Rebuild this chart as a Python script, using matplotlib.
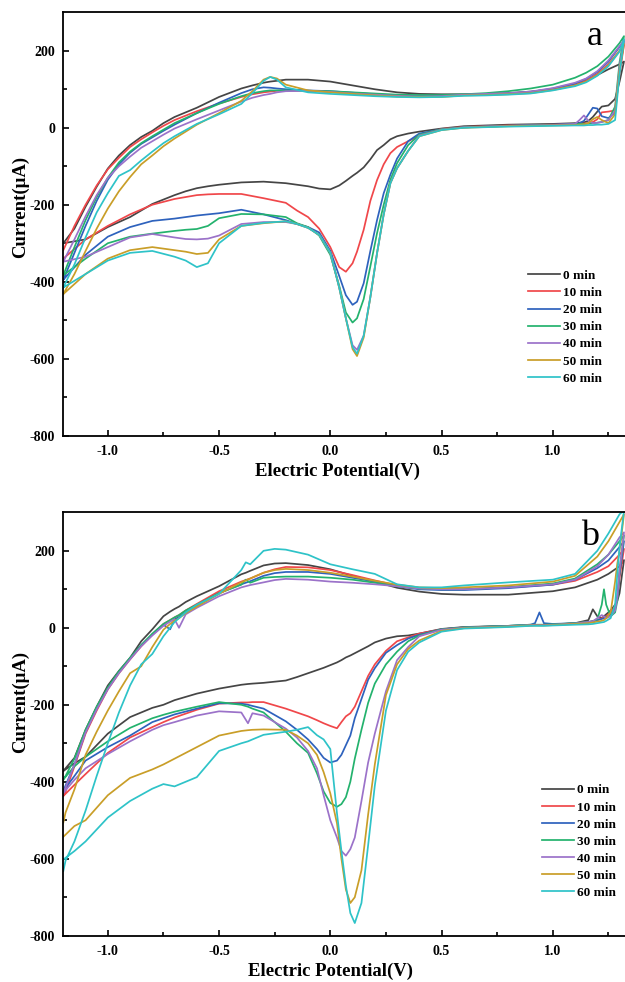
import matplotlib
matplotlib.use("Agg")
import matplotlib.pyplot as plt
import numpy as np
from matplotlib.ticker import FixedLocator

plt.rcParams['font.family'] = ['Liberation Serif', 'DejaVu Serif']
plt.rcParams['axes.unicode_minus'] = False

LABELS = ["0 min", "10 min", "20 min", "30 min", "40 min", "50 min", "60 min"]
COLORS = ["#454545", "#f0474a", "#2e62bd", "#23b26d", "#9b72c9", "#c99e28", "#2ec3c8"]

# ---------------- panel a ----------------
UA_X = [-1.2, -1.15, -1.1, -1.05, -1.0, -0.95, -0.9, -0.85, -0.8, -0.75, -0.7, -0.6, -0.5, -0.4,
        -0.35, -0.3, -0.27, -0.24, -0.2, -0.1, 0.0, 0.1, 0.2, 0.3, 0.4, 0.5, 0.6, 0.7, 0.8, 0.9,
        1.0, 1.1, 1.15, 1.2, 1.25, 1.3, 1.32]
UA_0 = [-300, -262, -205, -153, -106, -72, -45, -24, -8, 12, 28, 52, 80, 102, 110, 117, 120, 122, 125,
        125, 120, 110, 100, 92, 88, 87, 87, 88, 90, 94, 100, 112, 122, 137, 152, 165, 172]
UA_10 = [-318, -255, -200, -150, -108, -78, -50, -30, -12, 5, 20, 43, 63, 80, 87, 92, 94, 96, 97,
         96, 93, 89, 86, 83, 82, 83, 85, 86, 88, 92, 100, 112, 122, 140, 165, 200, 215]
UA_20 = [-395, -325, -255, -190, -135, -95, -65, -42, -25, -8, 8, 38, 65, 90, 100, 105, 104, 102, 100,
         97, 95, 91, 87, 84, 83, 83, 86, 87, 89, 93, 102, 115, 127, 145, 172, 210, 225]
UA_30 = [-383, -310, -240, -180, -130, -90, -62, -40, -22, -5, 12, 38, 62, 82, 90, 95, 97, 97, 97,
         96, 95, 92, 89, 86, 85, 85, 87, 90, 95, 102, 112, 130, 143, 160, 185, 220, 238]
UA_40 = [-348, -290, -230, -175, -130, -100, -75, -52, -35, -18, -2, 22, 45, 68, 78, 85, 88, 92, 95,
         96, 93, 89, 86, 83, 81, 82, 86, 88, 90, 94, 103, 117, 128, 147, 175, 212, 228]
UA_50 = [-432, -380, -320, -262, -210, -165, -128, -95, -72, -48, -28, 8, 38, 70, 95, 125, 132, 128, 112,
         97, 92, 88, 84, 81, 80, 80, 84, 85, 87, 90, 98, 110, 120, 137, 162, 200, 218]
UA_60 = [-415, -355, -285, -220, -170, -125, -110, -85, -62, -40, -22, 10, 35, 62, 90, 122, 132, 125, 105,
         92, 88, 85, 82, 80, 79, 80, 83, 84, 86, 89, 97, 108, 118, 135, 160, 198, 230]

LA_X = [1.32, 1.3, 1.28, 1.25, 1.22, 1.2, 1.18, 1.16, 1.14, 1.12, 1.1, 1.0, 0.8, 0.6, 0.5, 0.4, 0.35,
        0.3, 0.27, 0.24, 0.21, 0.18, 0.15, 0.12, 0.1, 0.07, 0.04, 0.0, -0.05, -0.1, -0.15, -0.2, -0.3,
        -0.4, -0.5, -0.55, -0.6, -0.65, -0.7, -0.8, -0.9, -1.0, -1.1, -1.2]
LA_0 = [172, 120, 75, 58, 55, 42, 28, 18, 14, 13, 12, 10, 8, 4, -2, -10, -15, -22, -30, -45, -58, -82,
        -103, -117, -125, -138, -150, -160, -158, -152, -148, -144, -140, -142, -148, -152, -157, -165,
        -175, -198, -232, -258, -290, -300]
LA_10 = [215, 140, 45, 42, 40, 22, 15, 12, 11, 10, 10, 8, 6, 2, -3, -20, -35, -50, -66, -95, -136, -190,
         -265, -322, -352, -374, -362, -310, -262, -232, -215, -195, -183, -172, -172, -173, -175, -180,
         -185, -200, -225, -255, -290, -340]
LA_20 = [225, 150, 40, 25, 30, 50, 52, 35, 18, 12, 10, 8, 5, 1, -4, -15, -35, -80, -122, -170, -240, -320,
         -404, -452, -460, -435, -385, -320, -272, -258, -250, -240, -225, -213, -222, -225, -228, -232,
         -236, -242, -258, -283, -330, -395]
LA_30 = [238, 170, 55, 20, 15, 13, 12, 11, 10, 10, 9, 7, 5, 1, -4, -18, -45, -92, -135, -200, -274, -360,
         -445, -495, -506, -480, -410, -330, -280, -258, -248, -232, -225, -224, -235, -255, -263, -265,
         -268, -275, -283, -300, -340, -383]
LA_40 = [228, 160, 45, 20, 15, 13, 12, 18, 32, 20, 10, 7, 5, 1, -5, -20, -60, -105, -144, -225, -326, -440,
         -540, -577, -565, -495, -415, -325, -278, -260, -250, -245, -245, -250, -280, -288, -290, -289,
         -285, -276, -285, -310, -335, -348]
LA_50 = [218, 150, 35, 12, 20, 28, 22, 12, 9, 8, 7, 6, 4, 0, -6, -22, -60, -105, -144, -225, -326, -440,
         -545, -593, -575, -495, -415, -325, -278, -260, -250, -243, -248, -255, -290, -325, -328, -322,
         -318, -310, -318, -340, -380, -432]
LA_60 = [230, 140, 20, 10, 8, 8, 7, 7, 6, 6, 6, 5, 3, 0, -6, -22, -60, -105, -144, -225, -326, -440,
         -540, -587, -570, -495, -415, -325, -278, -260, -250, -243, -247, -255, -300, -352, -362, -345,
         -335, -320, -325, -345, -380, -415]

# ---------------- panel b ----------------
UB_X = [-1.2, -1.19, -1.15, -1.1, -1.05, -1.0, -0.95, -0.9, -0.85, -0.8, -0.75, -0.72, -0.7, -0.68,
        -0.65, -0.6, -0.5, -0.4, -0.38, -0.36, -0.3, -0.25, -0.2, -0.1, 0.0, 0.1, 0.2, 0.3, 0.4, 0.5,
        0.6, 0.8, 1.0, 1.1, 1.2, 1.25, 1.3, 1.32]
UB_0 = [-372, -365, -338, -265, -205, -150, -112, -78, -35, -4, 30, 42, 49, 55, 67, 82, 108, 139, 143,
        148, 162, 167, 168, 163, 152, 135, 120, 104, 94, 88, 86, 86, 95, 105, 125, 140, 160, 176]
UB_10 = [-437, -425, -360, -275, -215, -160, -118, -82, -48, -18, 10, 20, 27, 33, 45, 62, 95, 120, 124,
         128, 143, 152, 158, 157, 150, 137, 123, 110, 102, 100, 100, 105, 112, 122, 145, 160, 190, 205]
UB_20 = [-424, -410, -355, -270, -210, -157, -115, -80, -45, -18, 8, -4, 22, 28, 40, 58, 90, 113, 117,
         121, 135, 142, 145, 145, 140, 130, 120, 108, 100, 98, 98, 103, 112, 125, 155, 175, 210, 225]
UB_30 = [-394, -385, -340, -265, -205, -155, -113, -78, -45, -15, 10, 20, 27, 33, 45, 60, 90, 112, 125,
         117, 130, 132, 133, 133, 130, 125, 117, 108, 102, 100, 100, 106, 115, 128, 165, 190, 225, 240]
UB_40 = [-429, -415, -355, -272, -212, -160, -118, -82, -48, -20, 5, 16, 22, 0, 35, 52, 82, 105, 108,
         111, 118, 124, 127, 125, 120, 117, 113, 108, 102, 100, 100, 105, 113, 125, 160, 190, 235, 248]
UB_50 = [-506, -480, -420, -330, -270, -215, -165, -118, -100, -50, -5, 10, 18, 25, 38, 55, 88, 118, 123,
         128, 143, 150, 153, 150, 143, 133, 122, 112, 105, 103, 105, 110, 120, 135, 185, 225, 275, 295]
UB_60 = [-632, -605, -555, -475, -385, -300, -220, -150, -95, -68, -22, 0, 15, 25, 40, 60, 88, 150, 170,
         165, 200, 205, 203, 190, 165, 152, 140, 113, 105, 105, 110, 118, 125, 140, 200, 245, 295, 305]

LB_X = [1.32, 1.3, 1.29, 1.28, 1.26, 1.24, 1.23, 1.22, 1.2, 1.18, 1.16, 1.1, 1.0, 0.96, 0.94, 0.92, 0.9,
        0.8, 0.6, 0.5, 0.4, 0.35, 0.3, 0.25, 0.2, 0.17, 0.14, 0.11, 0.09, 0.07, 0.05, 0.03, 0.0, -0.03,
        -0.06, -0.1, -0.15, -0.2, -0.3, -0.35, -0.37, -0.4, -0.5, -0.6, -0.7, -0.75, -0.8, -0.9, -1.0,
        -1.1, -1.15, -1.2]
LB_0 = [176, 90, 70, 60, 45, 35, 30, 25, 30, 48, 20, 12, 8, 7, 7, 7, 7, 5, 2, -3, -15, -20, -22, -28, -38,
        -48, -57, -66, -72, -77, -84, -90, -97, -104, -110, -118, -128, -137, -143, -145, -146, -148, -158,
        -171, -188, -200, -208, -232, -275, -335, -352, -372]
LB_10 = [205, 130, 80, 55, 40, 30, 27, 25, 20, 17, 15, 12, 8, 7, 7, 7, 6, 4, 1, -4, -15, -25, -35, -60,
         -95, -125, -165, -205, -222, -230, -245, -261, -255, -248, -240, -230, -220, -210, -193, -193,
         -194, -194, -197, -213, -233, -245, -258, -285, -325, -380, -408, -437]
LB_20 = [225, 140, 80, 50, 35, 28, 25, 23, 20, 17, 15, 12, 10, 12, 40, 12, 8, 5, 1, -4, -18, -28, -45, -65,
         -105, -135, -185, -235, -280, -305, -330, -345, -350, -338, -315, -290, -265, -243, -210, -203,
         -200, -197, -196, -210, -225, -235, -245, -280, -310, -345, -385, -424]
LB_30 = [240, 150, 70, 40, 30, 60, 100, 60, 22, 17, 15, 12, 9, 8, 8, 8, 8, 5, 1, -4, -20, -35, -62, -95,
         -145, -195, -265, -340, -400, -440, -458, -465, -455, -425, -378, -325, -300, -270, -220, -210,
         -205, -200, -193, -205, -218, -226, -235, -260, -295, -335, -360, -394]
LB_40 = [248, 150, 80, 45, 30, 25, 30, 33, 25, 17, 15, 11, 8, 7, 7, 7, 7, 4, 0, -5, -22, -50, -84, -165,
         -275, -350, -450, -545, -575, -592, -580, -545, -500, -435, -365, -320, -285, -262, -228, -222,
         -248, -220, -217, -228, -245, -253, -265, -295, -328, -365, -395, -429]
LB_50 = [295, 200, 167, 120, 40, 25, 20, 18, 16, 14, 12, 10, 7, 6, 6, 6, 6, 3, -1, -8, -33, -55, -95, -175,
         -355, -485, -630, -700, -715, -680, -600, -508, -430, -375, -330, -300, -280, -265, -264, -265,
         -266, -268, -280, -310, -340, -355, -368, -390, -435, -500, -515, -543]
LB_60 = [305, 210, 140, 60, 25, 18, 15, 14, 12, 10, 9, 8, 6, 5, 5, 5, 5, 2, -2, -10, -38, -62, -110, -215,
         -410, -565, -715, -767, -741, -670, -580, -482, -315, -290, -279, -258, -265, -270, -278, -290,
         -295, -300, -320, -388, -412, -406, -418, -450, -493, -555, -580, -602]

X_MAJOR = [-1.0, -0.5, 0.0, 0.5, 1.0]
X_MINOR = [-0.75, -0.25, 0.25, 0.75, 1.25]
X_LABELS = ["-1.0", "-0.5", "0.0", "0.5", "1.0"]
Y_MAJOR = [-800, -600, -400, -200, 0, 200]
Y_MINOR = [-700, -500, -300, -100, 100]
Y_LABELS = ["-800", "-600", "-400", "-200", "0", "200"]

fig = plt.figure(figsize=(6.25, 9.82), dpi=100)
axA = fig.add_axes([0.1013, 0.5563, 0.8987, 0.4312])
axB = fig.add_axes([0.1013, 0.0471, 0.8987, 0.4312])

panels = [
    (axA, UA_X, [UA_0, UA_10, UA_20, UA_30, UA_40, UA_50, UA_60],
     LA_X, [LA_0, LA_10, LA_20, LA_30, LA_40, LA_50, LA_60], 'a', (0.828, 0.392), 0.489, 0.541, 0.9457),
    (axB, UB_X, [UB_0, UB_10, UB_20, UB_30, UB_40, UB_50, UB_60],
     LB_X, [LB_0, LB_10, LB_20, LB_30, LB_40, LB_50, LB_60], 'b', (0.852, 0.358), 0.476, 0.551, 0.9386),
]

for ax, ux, uys, lx, lys, letter, leg_anchor, xlab_x, ylab_y, let_x in panels:
    for uy, ly, col, lab in zip(uys, lys, COLORS, LABELS):
        xs = np.concatenate([ux, lx])
        ys = np.concatenate([uy, ly])
        ax.plot(xs, ys, color=col, lw=1.25, label=lab, solid_joinstyle='round')
    ax.set_xlim(-1.2, 1.3245)
    ax.set_ylim(-800, 300)
    ax.xaxis.set_major_locator(FixedLocator(X_MAJOR))
    ax.xaxis.set_minor_locator(FixedLocator(X_MINOR))
    ax.yaxis.set_major_locator(FixedLocator(Y_MAJOR))
    ax.yaxis.set_minor_locator(FixedLocator(Y_MINOR))
    ax.set_xticklabels(X_LABELS, fontweight='bold', fontsize=10)
    ax.set_yticklabels(Y_LABELS, fontweight='bold', fontsize=10)
    ax.tick_params(which='both', direction='in', width=1.2, top=False, right=False)
    ax.tick_params(which='major', length=4.5)
    ax.tick_params(which='minor', length=3)
    ax.tick_params(axis='x', which='major', pad=7)
    ax.tick_params(axis='y', which='major', pad=6)
    for s in ['left', 'bottom', 'top']:
        ax.spines[s].set_linewidth(1.3)
    ax.spines['right'].set_visible(False)
    ax.set_xlabel('Electric Potential(V)', fontsize=13.5, fontweight='bold')
    ax.set_ylabel('Current(μA)', fontsize=13.5, fontweight='bold')
    ax.xaxis.set_label_coords(xlab_x, -0.063)
    ax.yaxis.set_label_coords(-0.061, ylab_y)
    ax.text(let_x, 0.9228, letter, transform=ax.transAxes,
            fontsize=26, ha='center', va='baseline')
    ax.legend(loc='upper left', bbox_to_anchor=leg_anchor, frameon=False, borderpad=0,
              borderaxespad=0, handlelength=2.4, handletextpad=0.25, labelspacing=0.37,
              prop={'weight': 'bold', 'size': 9.5})

fig.savefig('out.png', dpi=100)
